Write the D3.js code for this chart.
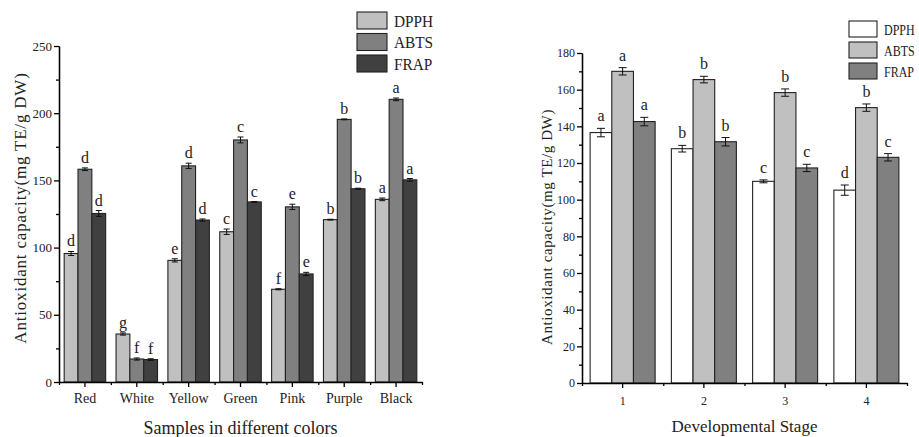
<!DOCTYPE html>
<html>
<head>
<meta charset="utf-8">
<script src="https://cdn.jsdelivr.net/npm/d3@7"></script>
<style>
	body { margin: 0; background: #fff; }
	svg { display: block; font-family: 'Liberation Serif', 'DejaVu Serif', serif; }
	.axis path, .axis line { stroke: #000; stroke-width: 1.3; }
	.axis text { fill: #222; font-family: 'Liberation Serif', serif; }
</style>
</head>
<body>
<svg id="chart" width="919" height="437"></svg>
<script>
// left panel: samples in different colours
const colorCats = ['Red', 'White', 'Yellow', 'Green', 'Pink', 'Purple', 'Black']
const colorDPPH = [95.6, 35.7, 90.5, 111.8, 69.0, 120.8, 135.9]
const colorABTS = [158.3, 17.1, 160.8, 180.1, 130.3, 195.4, 210.3]
const colorFRAP = [125.4, 16.7, 120.5, 134.0, 80.4, 143.8, 150.4]
const colorDPPHErr = [1.5, 0.8, 1.2, 2.0, 0.4, 0.3, 1.0]
const colorABTSErr = [1.0, 0.8, 2.0, 2.2, 2.0, 0.3, 1.0]
const colorFRAPErr = [2.2, 0.6, 0.8, 0.3, 1.2, 0.4, 1.0]
const colorDPPHSig = ['d', 'g', 'e', 'c', 'f', 'b', 'a']
const colorABTSSig = ['d', 'f', 'd', 'c', 'e', 'b', 'a']
const colorFRAPSig = ['d', 'f', 'd', 'c', 'e', 'b', 'a']
const colorYTicks = [0, 50, 100, 150, 200, 250]

// right panel: developmental stages
const stageCats = ['1', '2', '3', '4']
const stageDPPH = [136.6, 127.8, 110.0, 105.2]
const stageABTS = [170.0, 165.5, 158.4, 150.2]
const stageFRAP = [142.6, 131.6, 117.3, 123.1]
const stageDPPHErr = [2.3, 1.8, 0.8, 2.8]
const stageABTSErr = [2.0, 1.8, 2.0, 2.0]
const stageFRAPErr = [2.3, 2.3, 2.0, 2.0]
const stageDPPHSig = ['a', 'b', 'c', 'd']
const stageABTSSig = ['a', 'b', 'b', 'b']
const stageFRAPSig = ['a', 'b', 'c', 'c']
const stageYTicks = [0, 20, 40, 60, 80, 100, 120, 140, 160, 180]

const seriesNames = ['DPPH', 'ABTS', 'FRAP']
const yTitle = 'Antioxidant capacity(mg TE/g DW)'

const svg = d3.select('#chart')

function renderPanel(p) {
	const g = svg.append('g')
	const n = p.cats.length
	const x = d3.scaleBand().domain(p.cats).range([p.left, p.right]).padding(0)
	const inner = d3.scaleBand().domain(seriesNames)
		.range([x.bandwidth() * 0.1, x.bandwidth() * 0.9]).padding(0)
	const y = d3.scaleLinear().domain([0, d3.max(p.yTicks)]).range([p.bottom, p.top])
	const xEdge = d3.scaleLinear().domain([0, n]).range([p.left, p.right])

	// bars
	p.series.forEach((s, si) => {
		const name = seriesNames[si]
		const grp = g.append('g')
		grp.selectAll(null).data(s.values).enter().append('rect')
			.attr('x', (d, i) => x(p.cats[i]) + inner(name))
			.attr('width', inner.bandwidth())
			.attr('y', d => y(d))
			.attr('height', d => y(0) - y(d))
			.style('fill', p.colors[si]).style('stroke', '#222').style('stroke-width', 1.1)

		const cx = i => x(p.cats[i]) + inner(name) + inner.bandwidth() / 2
		grp.selectAll(null).data(s.values).enter().append('line')
			.attr('x1', (d, i) => cx(i)).attr('x2', (d, i) => cx(i))
			.attr('y1', (d, i) => y(d - s.err[i])).attr('y2', (d, i) => y(d + s.err[i]))
			.style('stroke', '#111').style('stroke-width', 1)
		;[-1, 1].forEach(sign => {
			grp.selectAll(null).data(s.values).enter().append('line')
				.attr('x1', (d, i) => cx(i) - p.cap).attr('x2', (d, i) => cx(i) + p.cap)
				.attr('y1', (d, i) => y(d + sign * s.err[i]))
				.attr('y2', (d, i) => y(d + sign * s.err[i]))
				.style('stroke', '#111').style('stroke-width', 1)
		})
		grp.selectAll(null).data(s.values).enter().append('text')
			.attr('x', (d, i) => cx(i))
			.attr('y', (d, i) => y(d + s.err[i]) - p.sigGap)
			.style('text-anchor', 'middle').style('font-size', p.sigSize + 'px').style('fill', '#222')
			.text((d, i) => s.sig[i])
	})

	// axes
	g.append('g').attr('class', 'axis')
		.attr('transform', `translate(0,${p.bottom})`)
		.call(d3.axisBottom(xEdge).ticks(n).tickSize(3).tickSizeOuter(0).tickFormat(''))
	g.append('g').attr('class', 'axis')
		.attr('transform', `translate(0,${p.bottom})`)
		.call(d3.axisBottom(x).tickSize(5).tickSizeOuter(0).tickPadding(p.xTickPad))
		.call(a => a.select('.domain').remove())
		.selectAll('text').style('font-size', p.xTickSize + 'px')

	const step = p.yTicks[1] - p.yTicks[0]
	const minor = d3.range(step / 2, d3.max(p.yTicks), step)
	g.append('g').attr('class', 'axis')
		.attr('transform', `translate(${p.left},0)`)
		.call(d3.axisLeft(y).tickValues(minor).tickSize(3).tickSizeOuter(0).tickFormat(''))
	g.append('g').attr('class', 'axis')
		.attr('transform', `translate(${p.left},0)`)
		.call(d3.axisLeft(y).tickValues(p.yTicks).tickSize(5).tickSizeOuter(0).tickPadding(2))
		.selectAll('text').style('font-size', p.yTickSize + 'px')

	// titles
	g.append('text')
		.attr('transform', `translate(${p.yTitleX},${p.yTitleY}) rotate(-90)`)
		.style('text-anchor', 'middle').style('font-size', p.yTitleSize + 'px')
		.style('letter-spacing', p.yTitleSpacing + 'px').style('fill', '#222')
		.text(yTitle)
	g.append('text')
		.attr('x', (p.left + p.right) / 2 + p.xTitleShift).attr('y', p.xTitleY)
		.style('text-anchor', 'middle').style('font-size', p.xTitleSize + 'px').style('fill', '#222')
		.text(p.xTitle)

	// legend
	const lg = g.append('g').attr('transform', `translate(${p.legendX},${p.legendY})`)
	seriesNames.forEach((name, i) => {
		lg.append('rect')
			.attr('x', 0).attr('y', i * p.legendStep)
			.attr('width', p.legendW).attr('height', p.legendH)
			.style('fill', p.colors[i]).style('stroke', '#222').style('stroke-width', 1.1)
		lg.append('text')
			.attr('transform', `translate(${p.legendW + 7},${i * p.legendStep + p.legendH / 2 + 6}) scale(${p.legendScale},1)`)
			.style('font-size', p.legendSize + 'px').style('fill', '#222')
			.text(name)
	})
}

renderPanel({
	cats: colorCats,
	series: [
		{ values: colorDPPH, err: colorDPPHErr, sig: colorDPPHSig },
		{ values: colorABTS, err: colorABTSErr, sig: colorABTSSig },
		{ values: colorFRAP, err: colorFRAPErr, sig: colorFRAPSig }
	],
	colors: ['#c0c0c0', '#808080', '#404040'],
	yTicks: colorYTicks,
	left: 59, right: 422, top: 46, bottom: 382,
	cap: 3, sigGap: 5, sigSize: 16,
	xTickSize: 14, xTickPad: 6, yTickSize: 13,
	yTitleX: 26, yTitleY: 208, yTitleSize: 17, yTitleSpacing: 0.8,
	xTitle: 'Samples in different colors', xTitleY: 434, xTitleSize: 18, xTitleShift: 0,
	legendX: 357, legendY: 12, legendStep: 21.5, legendW: 30, legendH: 17, legendSize: 17, legendScale: 0.9
})

renderPanel({
	cats: stageCats,
	series: [
		{ values: stageDPPH, err: stageDPPHErr, sig: stageDPPHSig },
		{ values: stageABTS, err: stageABTSErr, sig: stageABTSSig },
		{ values: stageFRAP, err: stageFRAPErr, sig: stageFRAPSig }
	],
	colors: ['#ffffff', '#c0c0c0', '#808080'],
	yTicks: stageYTicks,
	left: 582, right: 907, top: 53, bottom: 383,
	cap: 4, sigGap: 7, sigSize: 16,
	xTickSize: 12, xTickPad: 8, yTickSize: 12,
	yTitleX: 552, yTitleY: 227, yTitleSize: 15, yTitleSpacing: 0.6,
	xTitle: 'Developmental Stage', xTitleY: 432, xTitleSize: 17, xTitleShift: 0,
	legendX: 849, legendY: 21, legendStep: 21, legendW: 28, legendH: 16, legendSize: 15, legendScale: 0.8
})
</script>
</body>
</html>
